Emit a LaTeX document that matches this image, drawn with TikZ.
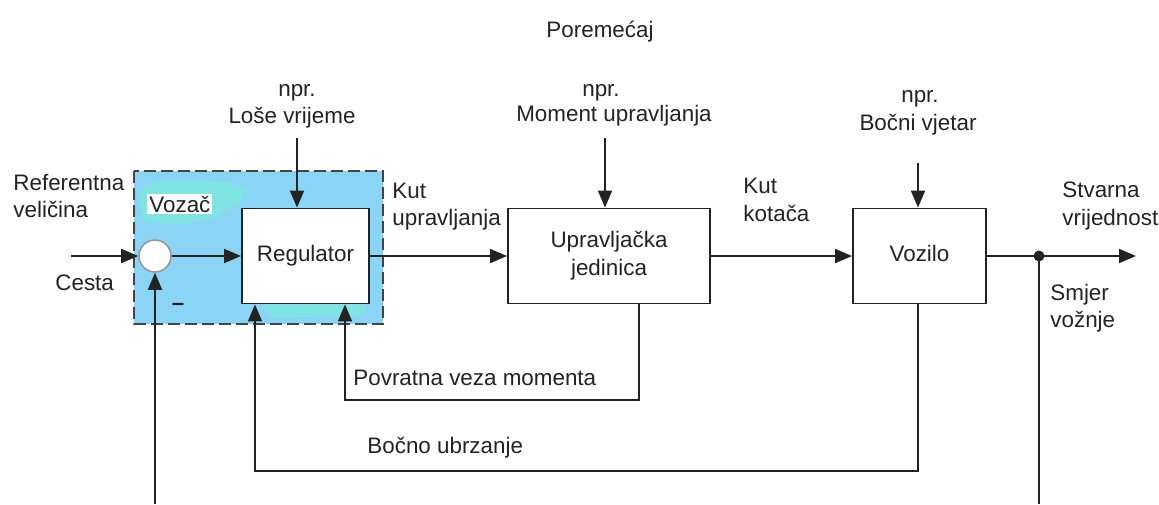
\documentclass[tikz,border=0pt]{standalone}
\usepackage{fontspec}
\setmainfont{Liberation Sans}
\usetikzlibrary{arrows.meta}
\definecolor{lc}{RGB}{35,35,35}
\definecolor{vblue}{RGB}{138,213,245}
\definecolor{vcyan}{RGB}{128,228,228}
\begin{document}
\begin{tikzpicture}[x=0.5pt,y=-0.5pt,
  font=\fontsize{11.2}{14}\selectfont,
  line/.style={draw=lc, line width=0.95pt},
  arr/.style={line, -{Triangle[length=8.5pt,width=7pt]}},
  blockbox/.style={draw=lc, line width=0.95pt, fill=white, text=lc, inner sep=0pt, align=center},
  lbl/.style={anchor=base, inner sep=0pt, text=lc},
  lblw/.style={anchor=base west, inner sep=0pt, text=lc},
  sumnode/.style={circle, draw=gray!80, line width=0.8pt, fill=white, minimum size=16pt, inner sep=0pt},
  dotnode/.style={circle, fill=lc, minimum size=5.5pt, inner sep=0pt},
]
\useasboundingbox (0,0) rectangle (1159,504);

% driver area
\fill[vblue] (134,171) rectangle (383,324);
\fill[vcyan, rounded corners=10pt] (140,180) -- (245,182) -- (250,196) -- (236,206) -- (205,222) -- (150,226) -- (138,214) -- cycle;
\fill[vcyan, rounded corners=4pt] (262,300) -- (366,300) -- (364,316) -- (268,318) -- cycle;
\draw[draw=lc!85, line width=0.9pt, dash pattern=on 6pt off 2.5pt] (134,171) rectangle (383,324);
\node[fill=white, text=lc, anchor=base west, inner xsep=1pt, inner ysep=1pt] (vozac) at (147,212) {Vozač};

% blocks
\node[blockbox, minimum width=63.5pt, minimum height=47.5pt] (reg) at (305.5,256) {Regulator};
\node[blockbox, minimum width=101pt, minimum height=47.5pt, font=\fontsize{11.2}{14}\selectfont] (upr) at (609,256) {Upravljačka\\jedinica};
\node[blockbox, minimum width=66.5pt, minimum height=47.5pt] (voz) at (919.5,256) {\raisebox{3pt}{Vozilo}};
\node[sumnode] (sum) at (155,256) {};
\node[dotnode] (jn) at (1039,256) {};
\node[lbl, font=\fontsize{11.2}{14}\selectfont\bfseries] (minus) at (178,310) {–};

% free ends
\coordinate (in) at (71,256);
\coordinate (out) at (1136,256);
\coordinate (sumbot) at (155,504);
\coordinate (jnbot) at (1039,504);
\coordinate (d1) at (297,138);
\coordinate (d2) at (605,138);
\coordinate (d3) at (918,163);

% main path
\draw[arr] (in) -- (sum.west);
\draw[arr] (sum.east) -- (reg.west);
\draw[arr] (reg.east) -- (upr.west);
\draw[arr] (upr.east) -- (voz.west);
\draw[line] (voz.east) -- (jn.center);
\draw[arr] (jn.center) -- (out);
\draw[line] (jn.center) -- (jnbot);
\draw[arr] (sumbot) -- (sum.south);

% disturbances
\draw[arr] (d1) -- (reg.north -| d1);
\draw[arr] (d2) -- (upr.north -| d2);
\draw[arr] (d3) -- (voz.north -| d3);

% feedback loops
\draw[arr] (upr.south -| 639,0) |- (345,400) -- (reg.south -| 345,0);
\draw[arr] (voz.south -| 918,0) |- (255,471) -- (reg.south -| 255,0);

% labels
\node[lbl] (por) at (600,37) {Poremećaj};
\node[lbl] (n1a) at (297,96) {npr.};
\node[lbl] (n1b) at (292,123) {Loše vrijeme};
\node[lbl] (n2a) at (601,96) {npr.};
\node[lbl] (n2b) at (614,121) {Moment upravljanja};
\node[lbl] (n3a) at (920,102) {npr.};
\node[lbl] (n3b) at (918,130) {Bočni vjetar};
\node[lblw] (ref1) at (13,190) {Referentna};
\node[lblw] (ref2) at (13,217) {veličina};
\node[lblw] (cesta) at (55,290) {Cesta};
\node[lblw] (ku1) at (392,198) {Kut};
\node[lblw] (ku2) at (392,225) {upravljanja};
\node[lblw] (kk1) at (743,193) {Kut};
\node[lblw] (kk2) at (743,221) {kotača};
\node[lblw] (sv1) at (1062,197) {Stvarna};
\node[lblw] (sv2) at (1062,225) {vrijednost};
\node[lblw] (sm1) at (1050,300) {Smjer};
\node[lblw] (sm2) at (1050,327) {vožnje};
\node[lblw] (pvm) at (353,385) {Povratna veza momenta};
\node[lblw] (bu) at (367,453) {Bočno ubrzanje};
\end{tikzpicture}
\end{document}
